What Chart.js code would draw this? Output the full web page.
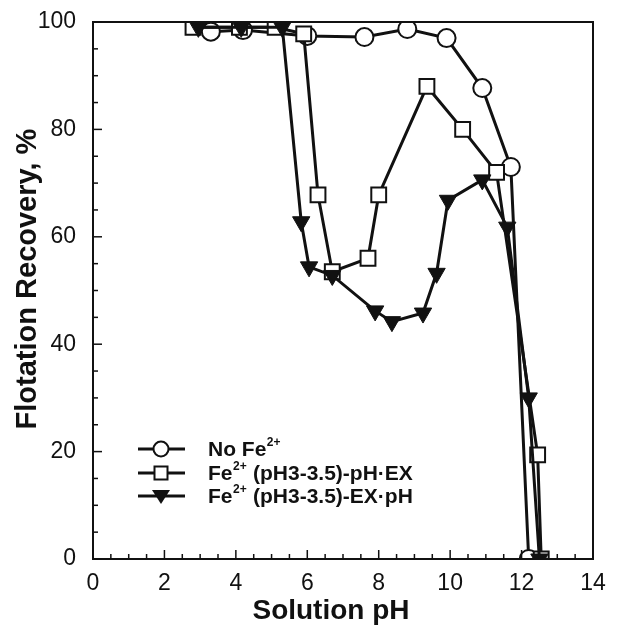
<!DOCTYPE html>
<html>
<head>
<meta charset="utf-8">
<style>
  html, body { margin: 0; padding: 0; background: #fff; }
  #wrap { width: 617px; height: 630px; }
</style>
<script src="https://cdn.jsdelivr.net/npm/chart.js@4/dist/chart.umd.min.js"></script>
</head>
<body>
<div id="wrap"><canvas id="c" width="617" height="630"></canvas></div>
<script>
// Flotation recovery vs. solution pH for three conditions
const pH_noFe = [3.3, 4.2, 6.0, 7.6, 8.8, 9.9, 10.9, 11.7, 12.2];
const rec_noFe = [98.2, 98.5, 97.4, 97.2, 98.7, 97.0, 87.7, 73.0, 0];

const pH_pHEX = [2.8, 4.1, 5.1, 5.9, 6.3, 6.7, 7.7, 8.0, 9.35, 10.35, 11.3, 12.45, 12.55];
const rec_pHEX = [99, 99, 99, 97.8, 67.8, 53.5, 56, 67.8, 88, 80, 72, 19.4, 0];

const pH_EXpH = [2.95, 4.15, 5.3, 5.83, 6.05, 6.7, 7.9, 8.37, 9.24, 9.62, 9.94, 10.9, 11.6, 12.2, 12.5];
const rec_EXpH = [99, 99, 99, 62.8, 54.4, 52.8, 46.2, 44.2, 45.8, 53.2, 66.8, 70.6, 61.8, 30, 0];

const xTickValues = [0, 2, 4, 6, 8, 10, 12, 14];
const yTickValues = [0, 20, 40, 60, 80, 100];

const xTitle = 'Solution pH';
const yTitle = 'Flotation Recovery, %';
const seriesNames = ['No Fe', 'Fe', 'Fe'];
const seriesRest = ['', ' (pH3-3.5)-pH\u00B7EX', ' (pH3-3.5)-EX\u00B7pH'];

function toPoints(xs, ys) { return xs.map((x, i) => ({ x: x, y: ys[i] })); }

const INK = '#111';
const FONT = '"Liberation Sans", Arial, Helvetica, sans-serif';

// Frame, inward ticks, axis titles and in-plot legend
const decor = {
  id: 'decor',
  afterDatasetsDraw(chart) {
    const { ctx, chartArea: a, scales: { x, y } } = chart;
    ctx.save();
    ctx.strokeStyle = INK;
    ctx.lineWidth = 2;
    ctx.strokeRect(a.left, a.top, a.right - a.left, a.bottom - a.top);
    ctx.lineWidth = 1.5;
    for (let v = 0; v <= 14.001; v += 0.5) {
      const px = x.getPixelForValue(v);
      const len = Math.abs(v % 2) < 1e-6 ? 9 : 5;
      ctx.beginPath(); ctx.moveTo(px, a.bottom); ctx.lineTo(px, a.bottom - len); ctx.stroke();
    }
    for (let v = 0; v <= 100.001; v += 5) {
      const py = y.getPixelForValue(v);
      const len = Math.abs(v % 20) < 1e-6 ? 9 : 5;
      ctx.beginPath(); ctx.moveTo(a.left, py); ctx.lineTo(a.left + len, py); ctx.stroke();
    }

    // axis titles
    ctx.fillStyle = INK;
    ctx.textAlign = 'center';
    ctx.textBaseline = 'middle';
    ctx.font = 'bold 28px ' + FONT;
    ctx.fillText(xTitle, 331, 611);
    ctx.save();
    ctx.translate(28, 279);
    ctx.rotate(-Math.PI / 2);
    ctx.font = 'bold 29px ' + FONT;
    ctx.fillText(yTitle, 0, 0);
    ctx.restore();

    // legend
    const rows = [449, 473, 496];
    const styles = ['circle', 'rect', 'tri'];
    rows.forEach((ry, i) => {
      ctx.strokeStyle = INK;
      ctx.lineWidth = 3;
      ctx.beginPath(); ctx.moveTo(138, ry); ctx.lineTo(185, ry); ctx.stroke();
      ctx.lineWidth = 2;
      const cx = 161;
      if (styles[i] === 'circle') {
        ctx.fillStyle = '#fff';
        ctx.beginPath(); ctx.arc(cx, ry, 7.5, 0, Math.PI * 2); ctx.fill(); ctx.stroke();
      } else if (styles[i] === 'rect') {
        ctx.fillStyle = '#fff';
        ctx.fillRect(cx - 6.5, ry - 6.5, 13, 13); ctx.strokeRect(cx - 6.5, ry - 6.5, 13, 13);
      } else {
        ctx.fillStyle = INK;
        ctx.beginPath(); ctx.moveTo(cx - 9, ry - 6); ctx.lineTo(cx + 9, ry - 6); ctx.lineTo(cx, ry + 8); ctx.closePath(); ctx.fill();
      }
      ctx.fillStyle = INK;
      ctx.textBaseline = 'middle';
      ctx.textAlign = 'left';
      ctx.font = 'bold 21px ' + FONT;
      let tx = 208;
      ctx.fillText(seriesNames[i], tx, ry + 1);
      tx += ctx.measureText(seriesNames[i]).width;
      ctx.font = 'bold 12px ' + FONT;
      ctx.fillText('2+', tx + 0.5, ry - 6);
      tx += ctx.measureText('2+').width + 1;
      ctx.font = 'bold 21px ' + FONT;
      ctx.fillText(seriesRest[i], tx, ry + 1);
    });
    ctx.restore();
  }
};

const chart = new Chart(document.getElementById('c'), {
  type: 'scatter',
  data: {
    datasets: [
      {
        label: 'No Fe2+',
        data: toPoints(pH_noFe, rec_noFe),
        showLine: true,
        borderColor: INK,
        borderWidth: 3,
        pointStyle: 'circle',
        pointRadius: 9,
        pointBorderWidth: 2,
        pointBackgroundColor: '#fff',
        pointBorderColor: INK,
        order: 3
      },
      {
        label: 'Fe2+ (pH3-3.5)-pH·EX',
        data: toPoints(pH_pHEX, rec_pHEX),
        showLine: true,
        borderColor: INK,
        borderWidth: 3,
        pointStyle: 'rect',
        pointRadius: 10.5,
        pointBorderWidth: 2,
        pointBackgroundColor: '#fff',
        pointBorderColor: INK,
        order: 2
      },
      {
        label: 'Fe2+ (pH3-3.5)-EX·pH',
        data: toPoints(pH_EXpH, rec_EXpH),
        showLine: true,
        borderColor: INK,
        borderWidth: 3,
        pointStyle: 'triangle',
        rotation: 180,
        pointRadius: 10,
        pointBorderWidth: 1,
        pointBackgroundColor: INK,
        pointBorderColor: INK,
        order: 1
      }
    ]
  },
  options: {
    responsive: false,
    animation: false,
    events: [],
    layout: { padding: { top: 22, right: 24, left: 0, bottom: 0 } },
    plugins: { legend: { display: false }, tooltip: { enabled: false } },
    scales: {
      x: {
        type: 'linear',
        min: 0, max: 14,
        afterFit(s) { s.height = 71; s.paddingLeft = 0; s.paddingRight = 0; },
        afterBuildTicks(s) { s.ticks = xTickValues.map(v => ({ value: v })); },
        grid: { display: false, drawTicks: false },
        border: { display: false },
        ticks: { padding: 11, color: INK, font: { family: FONT, size: 23 } },
        title: { display: false }
      },
      y: {
        type: 'linear',
        min: 0, max: 100,
        afterFit(s) { s.width = 93; s.paddingTop = 0; s.paddingBottom = 0; },
        afterBuildTicks(s) { s.ticks = yTickValues.map(v => ({ value: v })); },
        grid: { display: false, drawTicks: false },
        border: { display: false },
        ticks: { padding: 17, color: INK, font: { family: FONT, size: 23 } },
        title: { display: false }
      }
    }
  },
  plugins: [decor]
});
</script>
</body>
</html>
